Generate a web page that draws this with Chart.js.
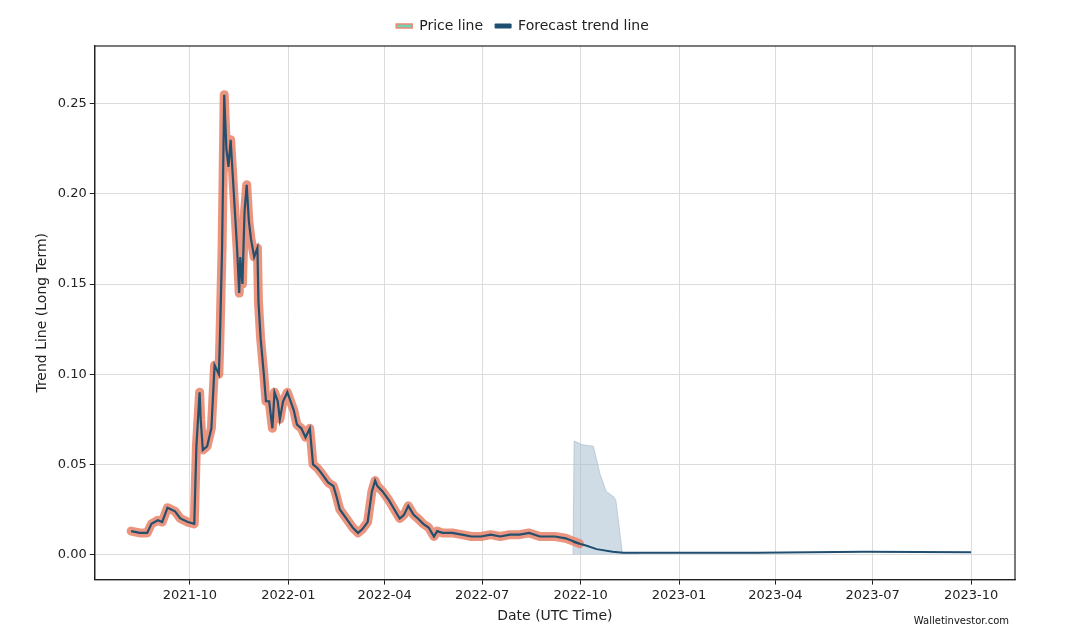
<!DOCTYPE html>
<html><head><meta charset="utf-8">
<script src="https://cdn.jsdelivr.net/npm/chart.js@4/dist/chart.umd.min.js"></script>
<style>html,body{margin:0;background:#fff}#w{position:relative;width:1067px;height:639px}
#wm{position:absolute;right:58px;bottom:13px;font:10px "DejaVu Sans",sans-serif;color:#111}</style>
</head><body><div id="w"><canvas id="c" width="1067" height="639"></canvas><div id="wm">Walletinvestor.com</div></div>
<script>
// days since 2021-10-01
const priceDays=[-55,-47,-40,-36,-30,-26,-21,-14,-9,-2,4,6,9,10,12,16,20,23,27,28,30,32,34,36,38,40,42,44,46,47,49,51,53,55,57,60,63,64,66,69,71,74,77,79,82,84,87,91,94,97,100,104,108,112,115,119,123,129,134,137,140,146,152,157,161,166,170,173,175,180,186,191,196,200,204,209,213,218,223,228,231,236,245,254,263,272,281,290,299,308,317,327,341,351,360,364];
const priceVals=[0.013,0.012,0.012,0.017,0.019,0.018,0.026,0.024,0.020,0.018,0.017,0.060,0.090,0.075,0.058,0.060,0.070,0.105,0.100,0.120,0.170,0.255,0.225,0.215,0.230,0.210,0.190,0.170,0.145,0.165,0.150,0.190,0.205,0.185,0.175,0.165,0.170,0.140,0.120,0.100,0.085,0.085,0.070,0.090,0.085,0.075,0.085,0.090,0.085,0.080,0.072,0.070,0.065,0.070,0.050,0.048,0.045,0.040,0.038,0.032,0.025,0.020,0.015,0.012,0.014,0.018,0.035,0.041,0.038,0.035,0.030,0.025,0.020,0.022,0.027,0.022,0.020,0.017,0.015,0.010,0.013,0.012,0.012,0.011,0.010,0.010,0.011,0.010,0.011,0.011,0.012,0.010,0.010,0.009,0.007,0.006];
const fcDays=[358,370,380,395,405,430,480,530,580,630,680,730];
const fcVals=[0.007,0.005,0.003,0.0015,0.001,0.001,0.001,0.001,0.0013,0.0015,0.0014,0.0013];
const bandDays=[358,359,366,377,383,389,396,398,404,420];
const bandUpper=[0.0,0.063,0.061,0.060,0.045,0.035,0.032,0.030,0.001,0.001];
const tickDays=[0,92,182,273,365,457,547,638,730];
const tickLabels=['2021-10','2022-01','2022-04','2022-07','2022-10','2023-01','2023-04','2023-07','2023-10'];
const pts=(xs,ys)=>xs.map((x,i)=>({x,y:ys[i]}));
const F='"DejaVu Sans",sans-serif';
new Chart(document.getElementById('c'),{type:'line',
data:{datasets:[
{label:'band',data:pts(bandDays,bandUpper),borderColor:'rgba(160,185,200,0.6)',borderWidth:1,backgroundColor:'rgba(160,185,205,0.5)',fill:{value:0},pointRadius:0,order:5},
{label:'Price line',data:pts(priceDays,priceVals),borderColor:'rgba(232,130,105,0.85)',borderWidth:9,pointRadius:0,order:3,borderJoinStyle:'round',borderCapStyle:'round'},
{label:'price inner',data:pts(priceDays,priceVals),borderColor:'#24506e',borderWidth:2.2,pointRadius:0,order:2},
{label:'Forecast trend line',data:pts(fcDays,fcVals),borderColor:'#1f4e70',borderWidth:2,pointRadius:0,order:1}
]},
options:{responsive:false,animation:false,
layout:{padding:{left:30,right:52,top:7,bottom:10}},
plugins:{legend:{position:'top',labels:{font:{family:F,size:14},color:'#222',boxWidth:16,boxHeight:4,padding:12,
generateLabels:ch=>[{text:'Price line',fillStyle:'#6fd3b5',strokeStyle:'#ea8a74',lineWidth:1.5,fontColor:'#222',datasetIndex:1},
{text:'Forecast trend line',fillStyle:'#1f4e70',strokeStyle:'#1f4e70',lineWidth:1,fontColor:'#222',datasetIndex:3}]}},
tooltip:{enabled:false}},
scales:{
x:{type:'linear',min:-89,max:771,
afterBuildTicks:a=>{a.ticks=tickDays.map(v=>({value:v}));},
ticks:{callback:(v)=>tickLabels[tickDays.indexOf(v)],font:{family:F,size:13},color:'#222',maxRotation:0,autoSkip:false},
grid:{color:'#dcdcdc',tickColor:'#222',tickLength:5},border:{color:'#222',width:1.2},
title:{display:true,text:'Date (UTC Time)',font:{family:F,size:14},color:'#222',padding:{top:2}}},
y:{min:-0.0139,max:0.282,
afterBuildTicks:a=>{a.ticks=[0,0.05,0.1,0.15,0.2,0.25].map(v=>({value:v}));},
ticks:{callback:v=>v.toFixed(2),font:{family:F,size:13},color:'#222'},
grid:{color:'#dcdcdc',tickColor:'#222',tickLength:5},border:{color:'#222',width:1.2},
title:{display:true,text:'Trend Line (Long Term)',font:{family:F,size:14},color:'#222'}}}},
plugins:[{id:'frame',afterDraw(ch){const a=ch.chartArea,c=ch.ctx;c.save();c.strokeStyle='#222';c.lineWidth=1.2;c.strokeRect(a.left,a.top,a.right-a.left,a.bottom-a.top);c.restore();}},
{id:'lgpad',beforeInit(ch){const f=ch.legend.fit;ch.legend.fit=function(){f.bind(ch.legend)();this.height+=3;};}}]
});
</script></body></html>
